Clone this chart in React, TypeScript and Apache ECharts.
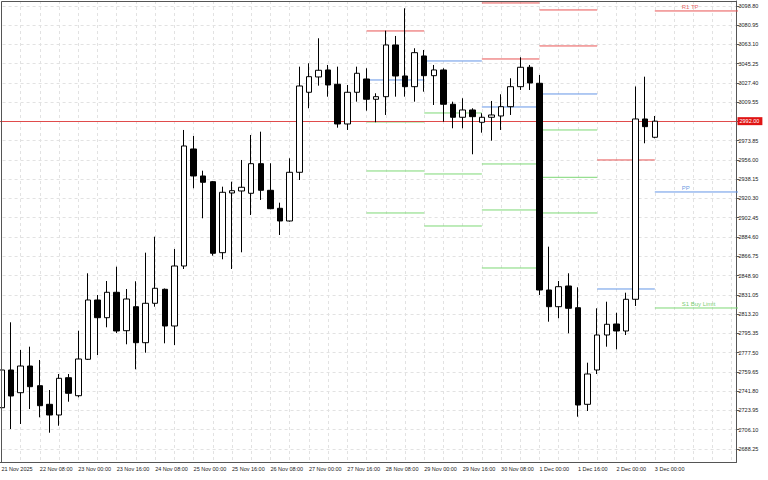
import React, { useEffect, useRef } from 'react';
import * as echarts from 'echarts';

const tickLabels = ['21 Nov 2025', '22 Nov 08:00', '23 Nov 00:00', '23 Nov 16:00', '24 Nov 08:00', '25 Nov 00:00', '25 Nov 16:00', '26 Nov 08:00', '27 Nov 00:00', '27 Nov 16:00', '28 Nov 08:00', '29 Nov 00:00', '29 Nov 16:00', '30 Nov 08:00', '1 Dec 00:00', '1 Dec 16:00', '2 Dec 00:00', '3 Dec 00:00'];

const opens = [2726.34, 2761.30, 2740.25, 2764.99, 2746.74, 2729.49, 2719.57, 2754.16, 2737.47, 2771.22, 2826.20, 2809.79, 2833.34, 2797.73, 2819.99, 2786.61, 2823.14, 2836.12, 2802.09, 2857.72, 2966.21, 2941.17, 2935.89, 2870.06, 2925.41, 2927.27, 2925.13, 2952.58, 2927.91, 2911.22, 2899.45, 2944.60, 3018.78, 3032.97, 3039.46, 3026.20, 2989.39, 3018.78, 3031.11, 3012.29, 3014.70, 3062.64, 3033.89, 3023.97, 3052.44, 3034.17, 3039.46, 3007.65, 2995.60, 3002.37, 2990.96, 2995.60, 2996.81, 3005.43, 3023.97, 3041.96, 3027.12, 2835.47, 2819.99, 2839.18, 2819.06, 2729.49, 2761.30, 2793.75, 2803.95, 2797.46, 2826.85, 2994.02, 2977.06];
const closes = [2761.30, 2737.19, 2764.99, 2745.81, 2728.20, 2719.57, 2753.60, 2739.69, 2771.50, 2826.20, 2809.79, 2833.34, 2797.46, 2827.13, 2786.61, 2823.14, 2837.05, 2802.09, 2857.72, 2968.99, 2941.17, 2935.33, 2869.50, 2926.06, 2927.54, 2930.70, 2952.58, 2927.91, 2910.85, 2899.45, 2944.60, 3024.62, 3033.24, 3039.18, 3025.55, 2989.39, 3018.78, 3036.40, 3012.29, 3014.70, 3062.64, 3033.89, 3023.97, 3055.50, 3034.17, 3039.46, 3007.65, 2995.60, 3002.37, 2996.16, 2995.60, 2997.73, 3005.43, 3023.97, 3041.96, 3027.40, 2835.47, 2819.99, 2838.53, 2818.51, 2728.84, 2757.59, 2793.75, 2803.67, 2797.46, 2826.85, 2994.02, 2986.89, 2992.00];
const lows = [2724.21, 2706.59, 2711.23, 2725.14, 2717.44, 2703.16, 2709.65, 2731.90, 2735.99, 2770.57, 2775.20, 2800.89, 2795.60, 2785.13, 2761.94, 2777.34, 2819.99, 2786.05, 2784.48, 2854.94, 2929.77, 2901.95, 2867.28, 2863.94, 2854.94, 2870.43, 2905.01, 2918.92, 2910.30, 2886.47, 2898.80, 2937.46, 3003.94, 3024.90, 3014.70, 2985.96, 2983.82, 3010.07, 3001.72, 2990.96, 2997.73, 3014.70, 3014.70, 3010.07, 3019.33, 3006.99, 2991.52, 2985.40, 2985.40, 2961.29, 2981.32, 2973.90, 2983.82, 2997.73, 3020.91, 3020.91, 2830.84, 2806.08, 2809.23, 2795.32, 2718.00, 2723.28, 2757.59, 2782.90, 2780.48, 2793.75, 2820.63, 2971.49, 2976.13];
const highs = [2764.99, 2805.52, 2779.84, 2782.90, 2770.57, 2742.75, 2757.59, 2757.59, 2797.73, 2850.96, 2830.84, 2843.82, 2857.08, 2836.40, 2843.54, 2870.06, 2884.89, 2836.86, 2873.49, 2983.82, 2978.26, 2946.09, 2936.54, 2931.25, 2935.89, 2956.01, 2979.19, 2982.25, 2952.95, 2916.42, 2957.58, 3042.52, 3045.67, 3068.85, 3044.09, 3042.52, 3025.55, 3042.52, 3041.03, 3017.85, 3075.89, 3070.98, 3096.66, 3059.58, 3058.00, 3044.09, 3041.03, 3010.07, 3013.22, 3003.94, 2999.31, 3010.71, 3016.92, 3031.76, 3051.23, 3044.09, 3034.82, 2875.62, 2843.82, 2850.96, 2837.97, 2768.06, 2818.50, 2824.62, 2814.42, 2832.97, 3024.16, 3033.24, 2996.81];

const yTicks = [3098.80, 3080.95, 3063.10, 3045.25, 3027.40, 3009.55, 2991.70, 2973.85, 2956.00, 2938.15, 2920.30, 2902.45, 2884.60, 2866.75, 2848.90, 2831.05, 2813.20, 2795.35, 2777.50, 2759.65, 2741.80, 2723.95, 2706.10, 2688.25];

const currentPrice = 2992.00;

// daily pivot segments (candle index ranges)
const segStart = [38, 44, 50, 56, 62, 68];
const segEnd = [44, 50, 56, 62, 68, 77];
const resistLevels = [[3075.62], [], [3101.58, 3049.65], [3095.09, 3061.71], [2956.01], [3094.16]];
const pivotLevels = [3030.18, 3047.80, 3005.15, 3017.20, 2836.40, 2926.34];
const supportLevels = [[2991.24, 2945.81, 2906.87], [2999.59, 2943.03, 2894.81], [2952.30, 2909.65, 2855.87], [2983.82, 2939.95, 2906.87], [], [2818.78]];

const levelLabels = ['R1 TP', 'PP', 'S1 Buy Limit'];
const levelLabelValues = [3094.16, 2926.34, 2818.78];

const TOTAL = 77;
const RED = '#e85454';
const BLUE = '#6496e6';
const GREEN = '#7ed876';
const FONT = 'Liberation Sans';

export default function App() {
  const ref = useRef<HTMLDivElement>(null);
  useEffect(() => {
    if (!ref.current) return;
    const chart = echarts.init(ref.current, null, { renderer: 'svg' });

    const categories: string[] = [];
    for (let i = 0; i < TOTAL; i++) {
      categories.push(i % 4 === 0 && tickLabels[i / 4] ? tickLabels[i / 4] : '');
    }
    const candleData = opens.map((o, i) => [o, closes[i], lows[i], highs[i]]);

    const levelSeries: any[] = [];
    const addLevel = (s: number, e: number, v: number, color: string) => {
      levelSeries.push({
        type: 'line',
        data: [[s, v], [e, v]],
        symbol: 'none',
        silent: true,
        z: 2,
        clip: true,
        lineStyle: { color, width: 1 },
      });
    };
    segStart.forEach((s, k) => {
      const e = segEnd[k];
      resistLevels[k].forEach((v) => addLevel(s, e, v, RED));
      addLevel(s, e, pivotLevels[k], BLUE);
      supportLevels[k].forEach((v) => addLevel(s, e, v, GREEN));
    });
    const labelColors = ['#e03c3c', '#3f78d8', '#52c04a'];

    chart.setOption({
      animation: false,
      backgroundColor: '#ffffff',
      grid: { left: -3.4, right: 31.5, top: 1, bottom: 18, containLabel: false, outerBoundsMode: 'none' },
      xAxis: {
        type: 'category',
        data: categories,
        boundaryGap: true,
        axisLine: { lineStyle: { color: '#555', width: 1 } },
        axisTick: { alignWithLabel: true, interval: 3, length: 4, lineStyle: { color: '#555' } },
        axisLabel: { interval: 3, align: 'left', fontSize: 5.5, fontFamily: FONT, color: '#222', margin: 4, hideOverlap: false },
        splitLine: { show: true, interval: 1, alignWithLabel: true, lineStyle: { color: '#e2e2e2', type: [3, 3], width: 1 } },
      },
      yAxis: {
        type: 'value',
        position: 'right',
        min: 2676.0,
        max: 3103.4,
        scale: true,
        axisLine: { show: true, lineStyle: { color: '#555', width: 1 } },
        axisTick: { show: true, length: 3, customValues: yTicks, lineStyle: { color: '#555' } },
        axisLabel: { customValues: yTicks, fontSize: 5.5, fontFamily: FONT, color: '#222', margin: 2, formatter: (v: number) => v.toFixed(2) },
        splitLine: { show: true, lineStyle: { color: '#e2e2e2', type: [3, 3], width: 1 } },
      },
      graphic: [
        {
          type: 'polyline',
          shape: { points: [[1.5, 462], [1.5, 1.5], [736.5, 1.5]] },
          style: { stroke: '#555', lineWidth: 1, fill: null },
          z: 10,
          silent: true,
        },
      ],
      series: [
        ...levelSeries,
        {
          type: 'candlestick',
          data: candleData,
          barWidth: 6,
          z: 4,
          itemStyle: { color: '#ffffff', color0: '#000000', borderColor: '#000000', borderColor0: '#000000', borderWidth: 1 },
          markLine: {
            symbol: 'none',
            silent: true,
            z: 3,
            lineStyle: { color: '#e04b4b', width: 1, type: 'solid' },
            label: {
              position: 'end',
              distance: 1,
              formatter: currentPrice.toFixed(2),
              backgroundColor: '#e01414',
              color: '#ffffff',
              fontSize: 5.5,
              fontFamily: FONT,
              padding: [1, 3, 1, 2],
            },
            data: [{ yAxis: currentPrice }],
          },
        },
        {
          type: 'scatter',
          symbolSize: 0,
          silent: true,
          z: 5,
          data: levelLabelValues.map((v, k) => ({
            value: [71, v],
            label: {
              show: true,
              formatter: levelLabels[k],
              position: 'top',
              align: 'left',
              offset: [-2, 0],
              distance: 1,
              color: labelColors[k],
              fontSize: 6,
              fontFamily: FONT,
            },
          })),
        },
      ],
    });
    return () => chart.dispose();
  }, []);
  return <div ref={ref} style={{ position: 'fixed', left: 0, top: 0, width: 768, height: 480 }} />;
}
